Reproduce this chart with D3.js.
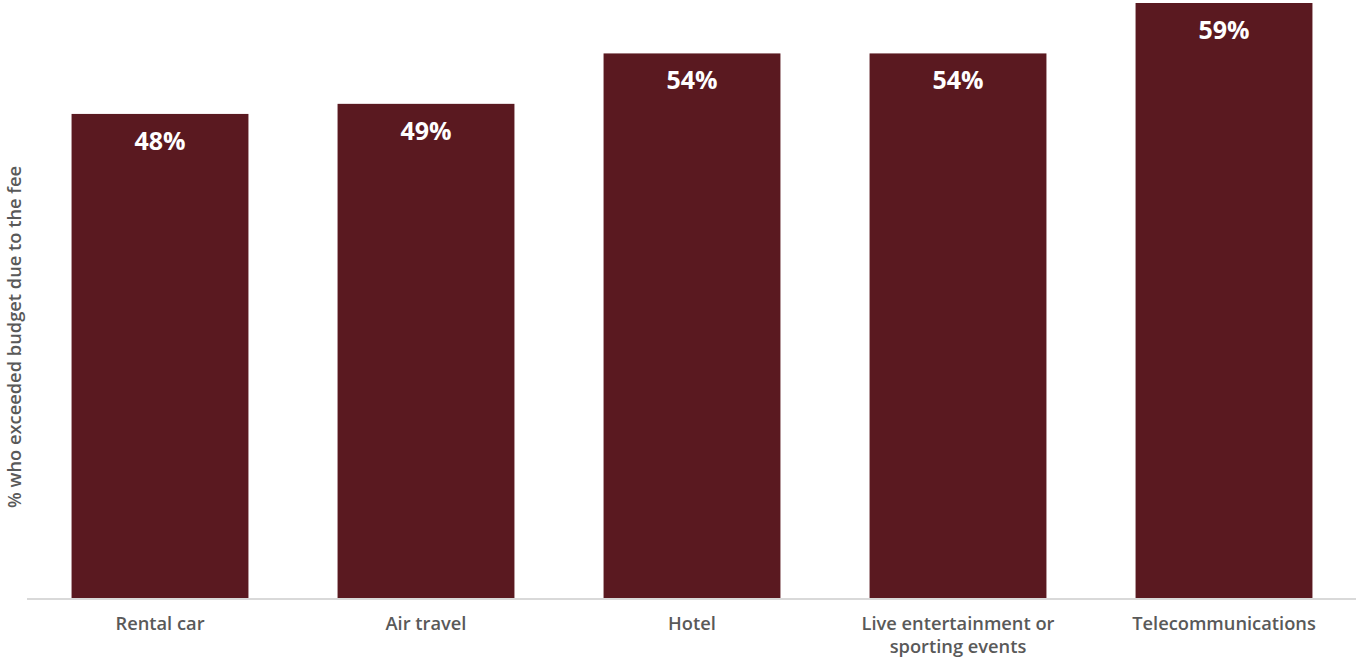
<!DOCTYPE html>
<html>
<head>
<meta charset="utf-8">
<script src="https://cdn.jsdelivr.net/npm/d3@7"></script>
<style>
  html, body { margin: 0; padding: 0; background: #fff; }
  svg { display: block; font-family: "Open Sans", Lato, sans-serif; }
</style>
</head>
<body>
<svg id="chart" width="1356" height="661"></svg>
<script>
// Share who exceeded their budget because of the fee, by category
const categories = [
  ["Rental car"],
  ["Air travel"],
  ["Hotel"],
  ["Live entertainment or", "sporting events"],
  ["Telecommunications"]
];
const values = [48, 49, 54, 54, 59];
const yTitle = "% who exceeded budget due to the fee";

const svg = d3.select("#chart");
const baseY = 598;

const x = d3.scaleBand()
  .domain(d3.range(categories.length))
  .range([27, 1357])
  .paddingInner(0.335)
  .paddingOuter(0.1675);

const y = d3.scaleLinear()
  .domain([0, 59])
  .range([baseY, 3]);

// bars
svg.selectAll("rect.bar")
  .data(values)
  .join("rect")
  .attr("class", "bar")
  .attr("x", (d, i) => x(i))
  .attr("y", d => y(d))
  .attr("width", x.bandwidth())
  .attr("height", d => y(0) - y(d))
  .attr("fill", "#5a1920");

// value labels inside the bars
svg.selectAll("text.val")
  .data(values)
  .join("text")
  .attr("class", "val")
  .attr("x", (d, i) => x(i) + x.bandwidth() / 2)
  .attr("y", d => y(d) + 36)
  .attr("text-anchor", "middle")
  .attr("fill", "#ffffff")
  .attr("font-size", 25)
  .attr("font-weight", 700)
  .text(d => d + "%");

// baseline
svg.append("line")
  .attr("x1", 27).attr("x2", 1356)
  .attr("y1", baseY + 1).attr("y2", baseY + 1)
  .attr("stroke", "#d9d9d9")
  .attr("stroke-width", 2);

// category labels
const cat = svg.selectAll("text.cat")
  .data(categories)
  .join("text")
  .attr("class", "cat")
  .attr("text-anchor", "middle")
  .attr("fill", "#595959")
  .attr("font-size", 18.3)
  .attr("font-weight", 600);
cat.each(function(lines, i) {
  d3.select(this).selectAll("tspan")
    .data(lines)
    .join("tspan")
    .attr("x", x(i) + x.bandwidth() / 2)
    .attr("y", (l, j) => 630 + j * 23)
    .text(l => l);
});

// y-axis title
svg.append("text")
  .attr("transform", "translate(21,337) rotate(-90)")
  .attr("text-anchor", "middle")
  .attr("fill", "#595959")
  .attr("font-size", 18.3)
  .attr("font-weight", 600)
  .text(yTitle);
</script>
</body>
</html>
